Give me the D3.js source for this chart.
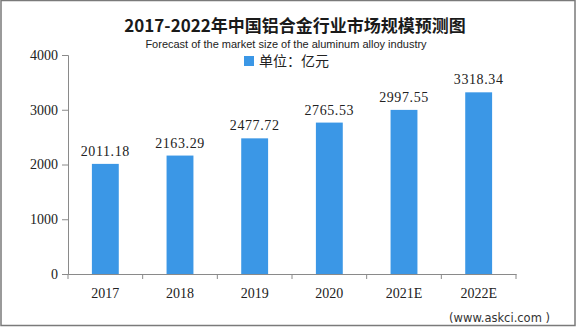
<!DOCTYPE html>
<html>
<head>
<meta charset="utf-8">
<script src="https://cdn.jsdelivr.net/npm/d3@7.9.0/dist/d3.min.js"></script>
<style>
  html, body { margin: 0; padding: 0; background: #fff; }
  svg { display: block; }
</style>
</head>
<body>
<div id="chart"></div>
<script>
// chart data
const years = ["2017", "2018", "2019", "2020", "2021E", "2022E"];
const values = [2011.18, 2163.29, 2477.72, 2765.53, 2997.55, 3318.34];
const yTicks = [0, 1000, 2000, 3000, 4000];
const title = "2017-2022年中国铝合金行业市场规模预测图";
const subtitle = "Forecast of the market size of the aluminum alloy industry";
const legendText = "单位：亿元";
const source = "(www.askci.com )";

const width = 576;
const height = 327;
const barColor = "#3b97e6";
const axisColor = "#8a8a8a";
const numFont = "'Liberation Serif', 'DejaVu Serif', serif";

const svg = d3.select("#chart")
    .append("svg")
    .attr("width", width)
    .attr("height", height);

// outer frame
svg.append("rect")
    .attr("x", 1).attr("y", 0.5)
    .attr("width", width - 2).attr("height", height - 2)
    .attr("fill", "#fff")
    .attr("stroke", "#7a7a7a")
    .attr("stroke-width", 1.5);

// scales
const x = d3.scaleBand()
    .domain(years)
    .range([68, 516])
    .paddingInner(0.64)
    .paddingOuter(0.32);

const y = d3.scaleLinear()
    .domain([0, 4000])
    .range([274, 55]);

// titles
svg.append("text")
    .attr("x", 295).attr("y", 32)
    .attr("text-anchor", "middle")
    .attr("font-family", "'Noto Sans CJK SC', serif")
    .attr("font-weight", "bold")
    .attr("font-size", 17)
    .attr("fill", "#1a1a1a")
    .text(title);

svg.append("text")
    .attr("x", 286).attr("y", 47.5)
    .attr("text-anchor", "middle")
    .attr("font-family", "'Liberation Sans', Arial, sans-serif")
    .attr("font-size", 11)
    .attr("fill", "#222")
    .text(subtitle);

// legend
svg.append("rect")
    .attr("x", 244).attr("y", 56)
    .attr("width", 10).attr("height", 10)
    .attr("fill", barColor);

svg.append("text")
    .attr("x", 259).attr("y", 66)
    .attr("font-family", "'Noto Sans CJK SC', sans-serif")
    .attr("font-size", 14)
    .attr("fill", "#222")
    .text(legendText);

// y axis
const yAxis = d3.axisLeft(y)
    .tickValues(yTicks)
    .tickSize(6)
    .tickPadding(4)
    .tickFormat(d3.format("d"));

const gy = svg.append("g")
    .attr("transform", "translate(68,0)")
    .call(yAxis);
gy.select(".domain").attr("stroke", axisColor);
gy.selectAll(".tick line").attr("stroke", axisColor);
gy.selectAll(".tick text")
    .attr("font-family", numFont)
    .attr("font-size", 14)
    .attr("fill", "#222");

// x axis (labels at band centres, ticks at band boundaries)
const xAxis = d3.axisBottom(x).tickSize(0).tickPadding(14);
const gx = svg.append("g")
    .attr("transform", "translate(0,274)")
    .call(xAxis);
gx.select(".domain").attr("stroke", axisColor);
gx.selectAll(".tick text")
    .attr("font-family", numFont)
    .attr("font-size", 14)
    .attr("fill", "#222");

const half = x.step() * x.paddingInner() / 2;
const bounds = years.map(d => x(d) - half).concat([x(years[years.length - 1]) + x.bandwidth() + half]);
gx.selectAll(".btick")
    .data(bounds)
    .enter()
    .append("line")
    .attr("x1", d => d).attr("x2", d => d)
    .attr("y1", 0).attr("y2", 5)
    .attr("stroke", axisColor);

// bars
svg.selectAll(".bar")
    .data(values)
    .enter()
    .append("rect")
    .attr("x", (d, i) => x(years[i]))
    .attr("y", d => y(d))
    .attr("width", x.bandwidth())
    .attr("height", d => y(0) - y(d))
    .attr("fill", barColor);

// value labels
svg.selectAll(".val")
    .data(values)
    .enter()
    .append("text")
    .attr("x", (d, i) => x(years[i]) + x.bandwidth() / 2)
    .attr("y", d => y(d) - 8)
    .attr("text-anchor", "middle")
    .attr("font-family", numFont)
    .attr("font-size", 14)
    .attr("letter-spacing", 0.6)
    .attr("fill", "#222")
    .text(d => d.toFixed(2));

// source
svg.append("text")
    .attr("x", 550).attr("y", 322)
    .attr("text-anchor", "end")
    .attr("font-family", "'DejaVu Sans', sans-serif")
    .attr("font-size", 11.5)
    .attr("fill", "#333")
    .text(source);
</script>
</body>
</html>
